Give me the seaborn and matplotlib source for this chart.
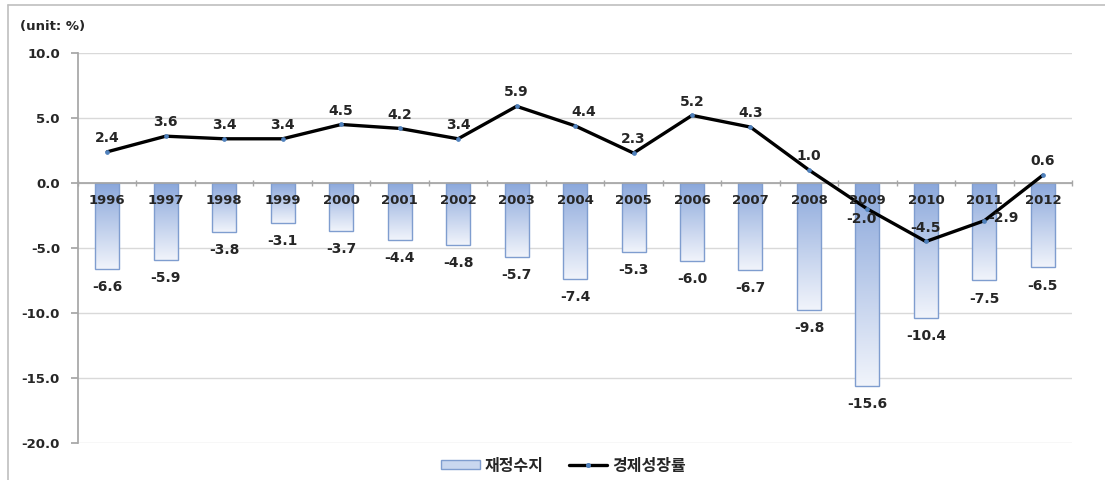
import numpy as np
import pandas as pd
import matplotlib
matplotlib.use("Agg")
import matplotlib.pyplot as plt
from matplotlib.colors import LinearSegmentedColormap
from matplotlib.lines import Line2D
from matplotlib.patches import Patch
import seaborn as sns

# Fiscal balance (bars) and economic growth rate (line), percent
years = ["1996", "1997", "1998", "1999", "2000", "2001", "2002", "2003", "2004",
         "2005", "2006", "2007", "2008", "2009", "2010", "2011", "2012"]
fiscal_balance = [-6.6, -5.9, -3.8, -3.1, -3.7, -4.4, -4.8, -5.7, -7.4,
                  -5.3, -6.0, -6.7, -9.8, -15.6, -10.4, -7.5, -6.5]
growth_rate = [2.4, 3.6, 3.4, 3.4, 4.5, 4.2, 3.4, 5.9, 4.4,
               2.3, 5.2, 4.3, 1.0, -2.0, -4.5, -2.9, 0.6]
y_ticks = [10.0, 5.0, 0.0, -5.0, -10.0, -15.0, -20.0]
bar_name = "재정수지"
line_name = "경제성장률"
unit_label = "(unit: %)"

sns.set_theme(style="white")
plt.rcParams["font.family"] = ["DejaVu Sans", "Noto Sans CJK KR"]
plt.rcParams["font.weight"] = "bold"

df = pd.DataFrame({"year": years, "fiscal": fiscal_balance, "growth": growth_rate})

fig = plt.figure(figsize=(11.05, 4.8), dpi=100)
ax = fig.add_axes([0.0706, 0.0771, 0.8996, 0.8125])

edge_blue = "#7F9DCF"
sns.barplot(data=df, x="year", y="fiscal", ax=ax, width=0.41,
            color="#B4C7E7", edgecolor=edge_blue, linewidth=1.0,
            saturation=1, zorder=2)

# vertical gradient fill for each bar, dark at the top fading downward
grad_cmap = LinearSegmentedColormap.from_list("barfade", ["#8AA7DB", "#F1F4FB"])
grad = np.linspace(0, 1, 256).reshape(-1, 1)
for patch in ax.patches:
    x0, y0 = patch.get_x(), patch.get_y()
    w, h = patch.get_width(), patch.get_height()
    top, bottom = max(y0, y0 + h), min(y0, y0 + h)
    im = ax.imshow(grad, cmap=grad_cmap, aspect="auto",
                   extent=[x0, x0 + w, bottom, top], origin="upper",
                   zorder=2.1, interpolation="bicubic")
    im.set_clip_path(patch)
    patch.set_facecolor("none")
    patch.set_zorder(2.2)

positions = np.arange(len(years))
sns.lineplot(x=positions, y=growth_rate, ax=ax, color="black", linewidth=2.4,
             marker="o", markersize=2.6, markerfacecolor="#4F81BD",
             markeredgecolor="#4F81BD", zorder=4, legend=False)

ax.set_xlim(-0.5, len(years) - 0.5)
ax.set_ylim(-20, 10)
ax.set_yticks(y_ticks)
ax.set_yticklabels([f"{v:.1f}" for v in y_ticks], fontsize=9.5, fontweight="bold")
ax.grid(axis="y", color="#D9D9D9", linewidth=1.0, zorder=0)
ax.set_axisbelow(True)
ax.xaxis.set_zorder(5)
ax.set_xlabel("")
ax.set_ylabel("")

for side in ["top", "right"]:
    ax.spines[side].set_visible(False)
ax.spines["left"].set_color("#A6A6A6")
ax.spines["bottom"].set_color("#A6A6A6")
ax.spines["bottom"].set_position(("data", 0))
ax.spines["bottom"].set_zorder(3)
ax.tick_params(axis="y", length=5, color="#A6A6A6", pad=8, left=True)
ax.tick_params(axis="x", which="major", length=0, pad=8, labelsize=9.5)
ax.set_xticks(np.arange(len(years) + 1) - 0.5, minor=True)
ax.tick_params(axis="x", which="minor", length=5, direction="inout",
               color="#A6A6A6", bottom=True)
for lab in ax.get_xticklabels():
    lab.set_fontweight("bold")

# value labels: bars below their ends, line points above
for i, v in enumerate(fiscal_balance):
    ax.annotate(f"{v:.1f}", (i, v), xytext=(0, -13), textcoords="offset points",
                ha="center", va="center", fontsize=10, fontweight="bold", zorder=6)

line_offsets = {13: (-4, -7), 15: (14, 2), 8: (6, 10)}
for i, v in enumerate(growth_rate):
    dx, dy = line_offsets.get(i, (0, 10))
    ax.annotate(f"{v:.1f}", (i, v), xytext=(dx, dy), textcoords="offset points",
                ha="center", va="center", fontsize=10, fontweight="bold", zorder=6)

fig.text(0.018, 0.944, unit_label, fontsize=9.5, fontweight="bold",
         ha="left", va="center")

handles = [Patch(facecolor="#C9D7EF", edgecolor=edge_blue, linewidth=1.0),
           Line2D([0], [0], color="black", linewidth=2.4, marker="o",
                  markersize=2.6, markerfacecolor="#4F81BD", markeredgecolor="#4F81BD")]
fig.legend(handles, [bar_name, line_name], loc="center", bbox_to_anchor=(0.51, 0.029),
           ncol=2, frameon=False, prop={"weight": "bold", "size": 11.5},
           handlelength=2.4, handleheight=0.5, columnspacing=1.6, handletextpad=0.3)

# outer frame lines along the top and left edges
fig.add_artist(Line2D([0.0072, 1.0], [0.99, 0.99], color="#BFBFBF", linewidth=1.2,
                      transform=fig.transFigure))
fig.add_artist(Line2D([0.0072, 0.0072], [0.0, 0.99], color="#BFBFBF", linewidth=1.2,
                      transform=fig.transFigure))

fig.savefig("out.png", dpi=100)
